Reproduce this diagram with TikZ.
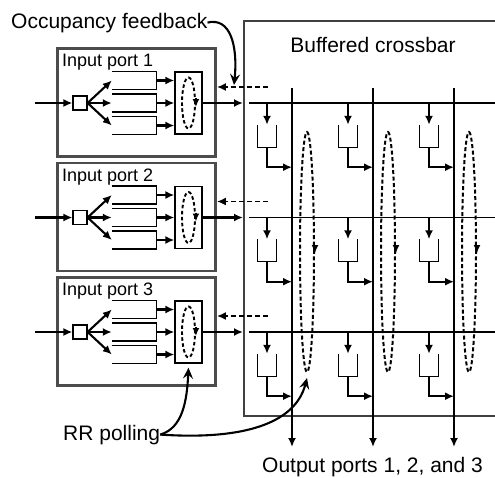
\documentclass[tikz,border=0pt]{standalone}
\usepackage{fontspec}
\setmainfont{Liberation Sans}
\usetikzlibrary{arrows.meta,positioning,shapes.geometric}

\begin{document}
\begin{tikzpicture}[x=1pt,y=1pt]

\tikzset{
	arr/.style={
		line width=2.1pt,
		-{Latex[length=9pt,width=8pt]}
	},
	colarr/.style={
		line width=2.3pt,
		-{Latex[length=9pt,width=8pt]}
	},
	callout/.style={
		line width=2.1pt,
		-{Stealth[length=11pt,width=10pt,inset=4pt]}
	},
	fback/.style={
		line width=1.8pt,
		dash pattern=on 5pt off 3pt,
		-{Latex[length=9pt,width=8pt]}
	},
	loopmark/.style={
		line width=1.8pt,
		-{Latex[length=8pt,width=7pt]}
	},
	frame/.style={
		draw=black!75,
		line width=1.6pt
	}
}

\tikzset{
	portbox/.style={
		rectangle,
		draw=black!70,
		line width=2.8pt,
		minimum width=158pt,minimum height=108pt,
		inner sep=0pt
	},
	portlabel/.style={
		font=\fontsize{18}{21}\selectfont,
		anchor=base west,
		inner sep=0pt
	},
	biglabel/.style={
		font=\fontsize{21}{25}\selectfont,
		inner sep=0pt
	},
	splitter/.style={
		rectangle,
		draw,
		line width=1.2pt,
		minimum size=14pt,
		inner sep=0pt
	},
	queue/.style={
		rectangle,
		minimum width=44pt,minimum height=17.5pt,
		inner sep=0pt
	},
	arbiter/.style={
		rectangle,
		draw,
		line width=1.3pt,
		minimum width=27pt,minimum height=62pt,
		inner sep=0pt
	},
	rrloop/.style={
		ellipse,
		draw,
		line width=1.9pt,
		dash pattern=on 3.5pt off 2.5pt,
		minimum width=13pt,minimum height=51pt,
		inner sep=0pt
	},
	pollloop/.style={
		ellipse,
		draw,
		line width=2pt,
		dash pattern=on 4pt off 2.5pt,
		minimum width=14pt,minimum height=240pt,
		inner sep=0pt
	},
	xpbuf/.style={
		rectangle,
		minimum width=18pt,minimum height=22pt,
		inner sep=0pt
	}
}

\tikzset{
	pics/inport/.style={
		code={
			\node[portbox] (-box) at (56.5,0.5) {};
			\node[portlabel] (-lbl) at (-18,36.3) {Input port #1};
			\node[splitter] (-sq) at (0,0) {};
			\coordinate (-src) at (-45,0);
			\node[queue] (-q1) at (54,22.5) {};
			\node[queue] (-q2) at (54,0) {};
			\node[queue] (-q3) at (54,-22.5) {};
			\node[arbiter] (-arb) at (108.5,0) {};
			\node[rrloop] (-loop) at (-arb) {};
			\draw[loopmark] ([yshift=5pt]-loop.east) -- ([yshift=-4pt]-loop.east);
			\draw[arr] (-src) -- (-sq);
			\foreach \q in {q1,q2,q3}{
				\draw[line width=1.3pt] (-\q.north west) -- (-\q.north east) -- (-\q.south east) -- (-\q.south west);
				\draw[arr] (-sq.east) -- (-\q.west);
				\draw[arr] (-\q.east) -- (-\q.east -| -arb.west);
			}
		}
	}
}

\useasboundingbox (0,0) rectangle (495,-477);

% input ports
\pic (p1) at (80,-103) {inport=1};
\pic (p2) at (80,-217.5) {inport=2};
\pic (p3) at (80,-332) {inport=3};

% buffered crossbar
\draw[frame] (495,-21) -| (244,-416) -- (495,-416);
\node[biglabel, anchor=base] (xbar) at (373,-52) {Buffered crossbar};

% rows
\foreach \r/\y in {1/-103,2/-217.5,3/-332}{
	\coordinate (in\r) at (243,\y);
	\coordinate (row\r) at (249,\y);
	\coordinate (rowend\r) at (495,\y);
	\coordinate (fb\r) at (268,\y+16);
	\draw[line width=1.3pt] (row\r) -- (rowend\r);
	\draw[arr] (p\r-arb.east) -- (in\r);
	\draw[fback] (fb\r) -- (fb\r -| p\r-box.east);
}

% output columns
\foreach \c/\x in {1/292,2/373,3/454}{
	\coordinate (col\c) at (\x,-88);
	\coordinate (out\c) at (\x,-447);
	\draw[colarr] (col\c) -- (out\c);
	\node[pollloop] (e\c) at (\x+15,-252) {};
	\draw[loopmark] ([yshift=7pt]e\c.east) -- ([yshift=-1pt]e\c.east);
}

% crosspoint buffers
\foreach \r/\y in {1/-103,2/-217.5,3/-332}{
	\foreach \c/\x in {1/292,2/373,3/454}{
		\node[xpbuf] (b\r\c) at (\x-25,\y-33) {};
		\draw[line width=1.3pt] (b\r\c.north west) -- (b\r\c.south west) -- (b\r\c.south east) -- (b\r\c.north east);
		\draw[arr] (b\r\c.north |- row\r) -- (b\r\c.north);
		\draw[arr] (b\r\c.south) -- ++(0,-20) coordinate (k\r\c) -- (k\r\c -| col\c);
	}
}

% labels
\node[biglabel, anchor=base west] (outp) at (262,-472) {Output ports 1, 2, and 3};
\node[biglabel, anchor=base west] (occ) at (11,-28) {Occupancy feedback};
\node[biglabel, anchor=base west] (rr) at (63,-440) {RR polling};

\coordinate (occtip) at (234,-85);
\draw[callout] (occ.east) .. controls (230,-17) and (238,-45) .. (occtip);
\draw[callout] (rr.east) .. controls (183,-428) and (187,-400) .. ([yshift=-4pt]p3-arb.south);
\draw[callout] (rr.east) .. controls (240,-440) and (295,-425) .. ([yshift=-5pt]e1.south);

\end{tikzpicture}
\end{document}
